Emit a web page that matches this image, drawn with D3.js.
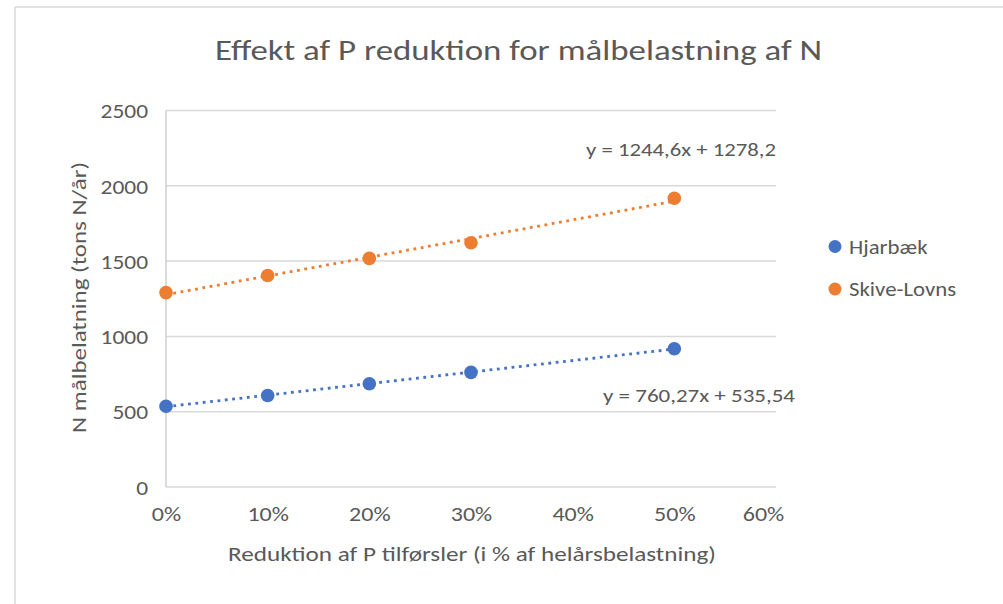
<!DOCTYPE html>
<html>
<head>
<meta charset="utf-8">
<script src="https://cdn.jsdelivr.net/npm/d3@7"></script>
<style>
  html, body { margin: 0; padding: 0; background: #fff; }
  svg { display: block; font-family: Carlito, Calibri, Lato, sans-serif; }
</style>
</head>
<body>
<svg id="chart" width="1003" height="604"></svg>
<script>
// ---- data ----
const xValues = [0, 0.1, 0.2, 0.3, 0.5];
const seriesNames = ["Hjarbæk", "Skive-Lovns"];
const hjarbaek = [536, 608, 686, 761, 918];
const skiveLovns = [1291, 1404, 1518, 1622, 1917];
const trendLabels = ["y = 760,27x + 535,54", "y = 1244,6x + 1278,2"];
const xTicks = [0, 0.1, 0.2, 0.3, 0.4, 0.5, 0.6];
const yTicks = [0, 500, 1000, 1500, 2000, 2500];
const title = "Effekt af P reduktion for målbelastning af N";
const xTitle = "Reduktion af P tilførsler (i % af helårsbelastning)";
const yTitle = "N målbelatning (tons N/år)";

const colors = ["#4472C4", "#ED7D31"];
const textColor = "#595959";
const gridColor = "#d9d9d9";
const FONT = "Carlito, Calibri, Lato, sans-serif";

const svg = d3.select("#chart");
const W = 1003, H = 604;

// stretch a text element horizontally to a target width
function fitWidth(sel, width) {
  sel.each(function () {
    this.setAttribute("textLength", width);
    this.setAttribute("lengthAdjust", "spacingAndGlyphs");
  });
}
function stretch(sel, k) {
  sel.each(function () {
    const w = this.getComputedTextLength();
    this.setAttribute("textLength", w * k);
    this.setAttribute("lengthAdjust", "spacingAndGlyphs");
  });
}

// outer frame (left and top visible)
svg.append("line").attr("x1", 15).attr("y1", 7).attr("x2", W).attr("y2", 7)
  .attr("stroke", gridColor).attr("stroke-width", 1.5);
svg.append("line").attr("x1", 15).attr("y1", 7).attr("x2", 15).attr("y2", H)
  .attr("stroke", gridColor).attr("stroke-width", 1.5);

const x = d3.scaleLinear().domain([0, 0.6]).range([166, 776]);
const y = d3.scaleLinear().domain([0, 2500]).range([487, 110.5]);

// gridlines
svg.append("g").selectAll("line").data(yTicks).join("line")
  .attr("x1", x(0)).attr("x2", x(0.6))
  .attr("y1", d => y(d)).attr("y2", d => y(d))
  .attr("stroke", gridColor).attr("stroke-width", 1.5);

// vertical axis line
svg.append("line").attr("x1", x(0)).attr("x2", x(0))
  .attr("y1", y(0)).attr("y2", y(2500))
  .attr("stroke", "#cfcfcf").attr("stroke-width", 1.5);

// axes
const fs = 20;
const yAxis = svg.append("g").attr("transform", `translate(${x(0)},0)`)
  .call(d3.axisLeft(y).tickValues(yTicks).tickSize(0).tickPadding(18).tickFormat(d3.format("d")));
yAxis.select(".domain").remove();
yAxis.selectAll("text").attr("fill", textColor).style("font-size", fs + "px")
  .style("font-family", FONT).attr("dy", "0.36em");
stretch(yAxis.selectAll("text"), 1.17);

const xAxis = svg.append("g").attr("transform", `translate(0,${y(0)})`)
  .call(d3.axisBottom(x).tickValues(xTicks).tickSize(0).tickPadding(20).tickFormat(d3.format(".0%")));
xAxis.select(".domain").remove();
xAxis.selectAll("text").attr("fill", textColor).style("font-size", fs + "px")
  .style("font-family", FONT);
stretch(xAxis.selectAll("text"), 1.2);
// last label is kept inside the chart area, as in the original
xAxis.selectAll(".tick").filter(d => d === 0.6).select("text").attr("x", -13);

// titles
fitWidth(svg.append("text").attr("x", 518.5).attr("y", 60).attr("text-anchor", "middle")
  .attr("fill", textColor).style("font-size", "29px").text(title), 607);
fitWidth(svg.append("text").attr("x", 472).attr("y", 561).attr("text-anchor", "middle")
  .attr("fill", textColor).style("font-size", "20.5px").text(xTitle), 488);
fitWidth(svg.append("text").attr("transform", "translate(86,297.5) rotate(-90)").attr("text-anchor", "middle")
  .attr("fill", textColor).style("font-size", "20.5px").text(yTitle), 271);

// series
const series = [hjarbaek, skiveLovns].map((vals, i) => ({
  name: seriesNames[i], color: colors[i], label: trendLabels[i],
  points: xValues.map((xv, j) => ({ x: xv, y: vals[j] }))
}));

function fit(points) {
  const mx = d3.mean(points, p => p.x), my = d3.mean(points, p => p.y);
  const sxy = d3.sum(points, p => (p.x - mx) * (p.y - my));
  const sxx = d3.sum(points, p => (p.x - mx) ** 2);
  const b = sxy / sxx;
  return { b, a: my - b * mx };
}

const labelPos = [{ x: 795, y: 402, w: 192 }, { x: 776, y: 156, w: 190 }];

series.forEach((s, i) => {
  const f = fit(s.points);
  const [x0, x1] = d3.extent(s.points, p => p.x);
  svg.append("line")
    .attr("x1", x(x0)).attr("y1", y(f.a + f.b * x0))
    .attr("x2", x(x1)).attr("y2", y(f.a + f.b * x1))
    .attr("stroke", s.color).attr("stroke-width", 2.8)
    .attr("stroke-dasharray", "2.8 4.6");
  svg.append("g").selectAll("circle").data(s.points).join("circle")
    .attr("cx", d => x(d.x)).attr("cy", d => y(d.y)).attr("r", 6.8)
    .attr("fill", s.color);
  fitWidth(svg.append("text").attr("x", labelPos[i].x).attr("y", labelPos[i].y)
    .attr("text-anchor", "end").attr("fill", textColor)
    .style("font-size", "18px").text(s.label), labelPos[i].w);
});

// legend
const legend = svg.append("g");
seriesNames.forEach((name, i) => {
  const ly = 246.5 + i * 42.5;
  legend.append("circle").attr("cx", 835).attr("cy", ly).attr("r", 6.5).attr("fill", colors[i]);
  const t = legend.append("text").attr("x", 849).attr("y", ly + 7).attr("fill", textColor)
    .style("font-size", fs + "px").text(name);
  stretch(t, 1.14);
});
</script>
</body>
</html>
